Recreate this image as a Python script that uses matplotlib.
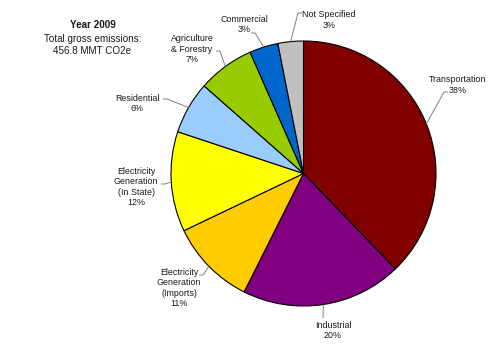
import numpy as np
import matplotlib
matplotlib.use("Agg")
from matplotlib import pyplot as plt

plt.rcParams['font.family'] = ['Liberation Sans', 'DejaVu Sans']

# slice data, clockwise from 12 o'clock
sectors = ["Transportation", "Industrial", "Electricity\nGeneration\n(Imports)",
           "Electricity\nGeneration\n(In State)", "Residential", "Agriculture\n& Forestry",
           "Commercial", "Not Specified"]
shares = [37.8, 19.6, 10.5, 12.2, 6.4, 6.9, 3.5, 3.1]
pct_labels = ["38%", "20%", "11%", "12%", "6%", "7%", "3%", "3%"]
colors = ["#800000", "#800080", "#FFCC00", "#FFFF00", "#99CCFF", "#99CC00", "#0066CC", "#C0C0C0"]

title_lines = ["Year 2009", "Total gross emissions:", "456.8 MMT CO2e"]

W, H = 500, 351
CX, CY, R = 303.5, 173.5, 132.5

# label block centres and leader start points, in image pixels
label_pos = [(458, 85), (333, 330.5), (179, 288), (136, 187),
             (137, 103.5), (192, 49), (244, 24.5), (329, 20)]
leader_start = [(448, 92), (323, 318), (199, 275), (161, 184),
                (163, 99), (216, 51), (251, 33), (302, 13)]


def px(x, y):
    # image pixels -> pie data coordinates
    return (x - CX) / R, (CY - y) / R


fig = plt.figure(figsize=(W / 100, H / 100), dpi=100)
ax = fig.add_axes([(CX - R) / W, (H - CY - R) / H, 2 * R / W, 2 * R / H])
wedges, _ = ax.pie(shares, colors=colors, startangle=90, counterclock=False, radius=1,
                   wedgeprops=dict(edgecolor="black", linewidth=0.8))
ax.set_xlim(-1, 1)
ax.set_ylim(-1, 1)
ax.set_aspect("equal")
ax.axis("off")

for wedge, name, pct, lp, ls in zip(wedges, sectors, pct_labels, label_pos, leader_start):
    mid = np.deg2rad((wedge.theta1 + wedge.theta2) / 2)
    ex, ey = np.cos(mid), np.sin(mid)
    sx, sy = px(*ls)
    # short horizontal elbow towards the pie, then to the wedge edge
    if abs(ex * R + CX - ls[0]) > 6:
        step = 4 / R * np.sign(ex - sx)
        xs, ys = [sx, sx + step, ex], [sy, sy, ey]
    else:
        xs, ys = [sx, ex], [sy, ey]
    ax.plot(xs, ys, color="#808080", lw=0.7, clip_on=False, solid_capstyle="butt")
    tx, ty = px(*lp)
    ax.text(tx, ty, f"{name}\n{pct}", ha="center", va="center", fontsize=6.4,
            color="#1a1a1a", linespacing=1.2, clip_on=False)

for i, line in enumerate(title_lines):
    fig.text(92.5 / W, 1 - (25.5 + 13 * i) / H, line, ha="center", va="center",
             fontsize=7.1, color="#1a1a1a", fontweight="bold" if i == 0 else "normal")

fig.savefig("out.png", dpi=100)
